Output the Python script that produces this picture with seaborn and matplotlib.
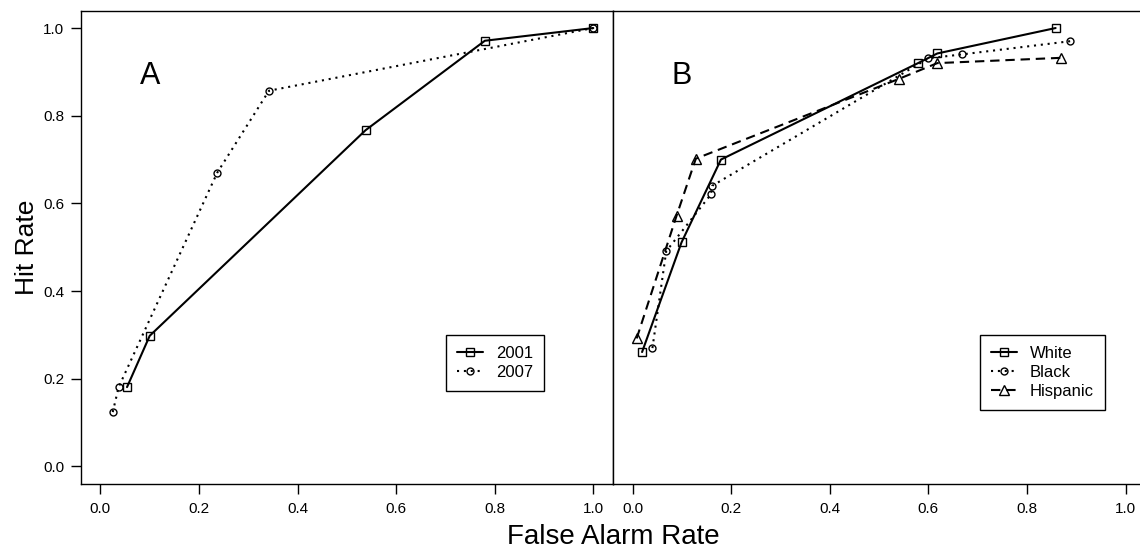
import matplotlib
matplotlib.use("Agg")
import matplotlib.pyplot as plt
import seaborn as sns
import pandas as pd

# Panel A: survey year
far_2001 = [0.054, 0.100, 0.538, 0.780, 1.000]
hit_2001 = [0.181, 0.298, 0.767, 0.971, 1.000]
far_2007 = [0.025, 0.037, 0.237, 0.342, 1.000]
hit_2007 = [0.124, 0.181, 0.670, 0.857, 1.000]

# Panel B: race / ethnicity
far_white = [0.019, 0.099, 0.179, 0.579, 0.618, 0.858]
hit_white = [0.261, 0.511, 0.700, 0.920, 0.942, 1.000]
far_black = [0.040, 0.068, 0.159, 0.161, 0.600, 0.669, 0.888]
hit_black = [0.270, 0.491, 0.621, 0.640, 0.931, 0.940, 0.970]
far_hisp = [0.008, 0.089, 0.128, 0.540, 0.618, 0.868]
hit_hisp = [0.292, 0.572, 0.702, 0.884, 0.920, 0.932]

ticks = [0.0, 0.2, 0.4, 0.6, 0.8, 1.0]
tick_labels = ["0.0", "0.2", "0.4", "0.6", "0.8", "1.0"]

sns.set_theme(style="ticks", rc={
    "axes.edgecolor": "black",
    "axes.linewidth": 1.0,
    "xtick.color": "black",
    "ytick.color": "black",
    "text.color": "black",
    "axes.labelcolor": "black",
})
plt.rcParams["font.family"] = ["Liberation Sans", "DejaVu Sans"]

DOT = (0, (1, 2.3))
DASH = (0, (4.5, 2.8))

fig = plt.figure(figsize=(11.4, 5.49), dpi=100)
ax_a = fig.add_axes([80.7 / 1140, 65 / 549, 532.3 / 1140, 473.5 / 549])
ax_b = fig.add_axes([613 / 1140, 65 / 549, 532.3 / 1140, 473.5 / 549])


def draw(ax, far, hit, label, marker, ms, ls):
    df = pd.DataFrame({"far": far, "hit": hit})
    sns.lineplot(data=df, x="far", y="hit", ax=ax, estimator=None, sort=False,
                 color="black", linewidth=1.5, linestyle=ls, label=label,
                 marker=marker, markersize=ms, markerfacecolor="none",
                 markeredgecolor="black", markeredgewidth=1.0)


draw(ax_a, far_2001, hit_2001, "2001", "s", 6, "-")
draw(ax_a, far_2007, hit_2007, "2007", "o", 5, DOT)

draw(ax_b, far_white, hit_white, "White", "s", 6, "-")
draw(ax_b, far_black, hit_black, "Black", "o", 5, DOT)
draw(ax_b, far_hisp, hit_hisp, "Hispanic", "^", 6.5, DASH)

for ax, letter, leg_x in [(ax_a, "A", 0.686), (ax_b, "B", 0.689)]:
    ax.set_xlim(-0.04, 1.04)
    ax.set_ylim(-0.04, 1.04)
    ax.set_xticks(ticks)
    ax.set_xticklabels(tick_labels)
    ax.set_xlabel("")
    ax.set_ylabel("")
    ax.tick_params(axis="x", direction="out", length=7, width=1.0,
                   pad=6, labelsize=11)
    for s in ax.spines.values():
        s.set_visible(True)
        s.set_linewidth(1.0)
        s.set_color("black")
    ax.text(0.1, 0.89, letter, fontsize=22, ha="center", va="center")
    leg = ax.legend(loc="upper left", bbox_to_anchor=(leg_x, 0.315),
                    borderaxespad=0, frameon=True, fancybox=False,
                    edgecolor="black", framealpha=1, fontsize=12,
                    handlelength=1.6, handletextpad=0.75, borderpad=0.65,
                    labelspacing=0.25)
    leg.get_frame().set_linewidth(1.0)

ax_a.set_yticks(ticks)
ax_a.set_yticklabels(tick_labels)
ax_a.tick_params(axis="y", direction="out", length=7, width=1.0,
                 pad=5, labelsize=11)
ax_b.set_yticks(ticks)
ax_b.tick_params(axis="y", left=False, labelleft=False)

fig.text(26.5 / 1140, 1 - 247.5 / 549, "Hit Rate", fontsize=19,
         rotation=90, ha="center", va="center")
fig.text(613 / 1140, 5 / 549, "False Alarm Rate", fontsize=20,
         ha="center", va="baseline")

fig.savefig("out.png", dpi=100)
